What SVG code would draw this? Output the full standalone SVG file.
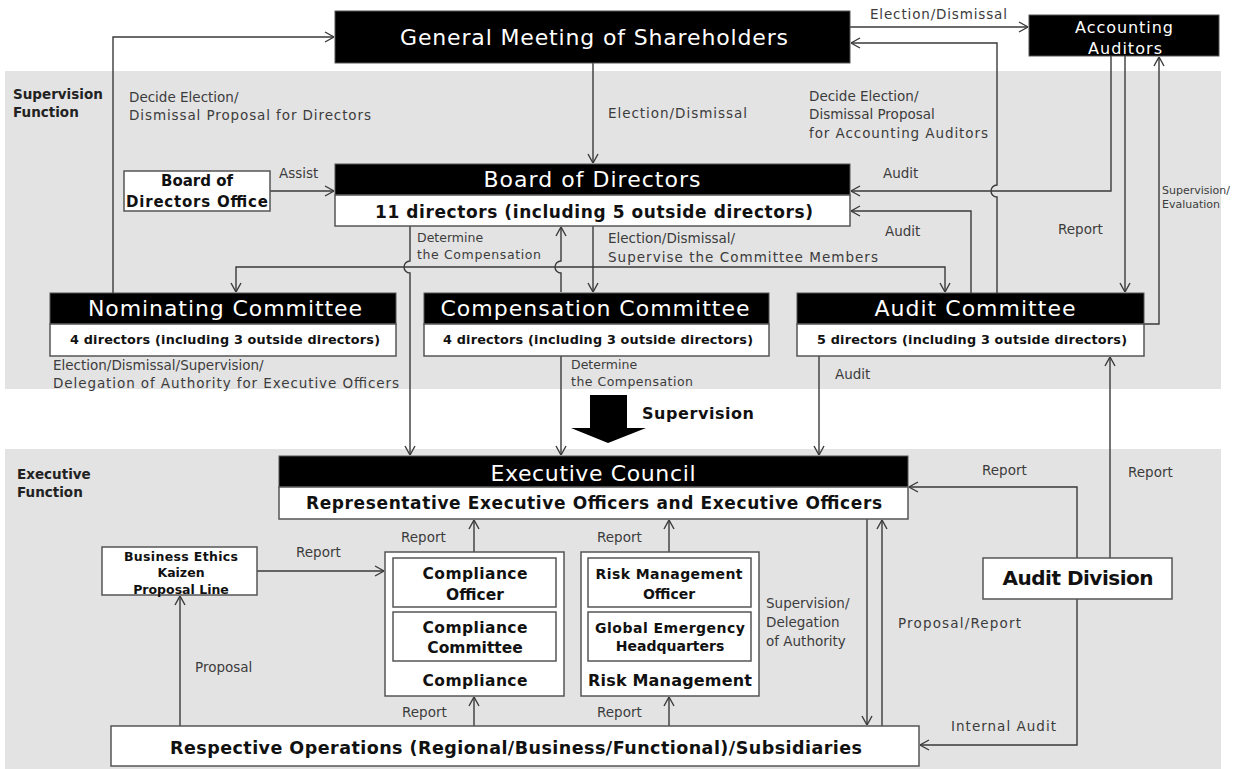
<svg xmlns="http://www.w3.org/2000/svg" width="1237" height="769" viewBox="0 0 1237 769">
  <style>
    .panel{fill:#e3e3e3}
    .blk{fill:#000;stroke:#555;stroke-width:1}
    .wht{fill:#fff;stroke:#555;stroke-width:1.5}
    .ttl{font-family:"DejaVu Sans",Verdana,sans-serif;fill:#fff;font-size:22px;text-anchor:middle}
    .sub{font-family:"DejaVu Sans",Verdana,sans-serif;font-weight:bold;fill:#111;text-anchor:middle}
    .sec{font-family:"DejaVu Sans",Verdana,sans-serif;font-weight:bold;fill:#222;font-size:13.5px}
    .lbl{font-family:"DejaVu Sans",Verdana,sans-serif;font-size:13.5px;fill:#3c3c3c}
    .cn{fill:none;stroke:#3a3a3a;stroke-width:1.4}
    .ar{marker-end:url(#ah)}
  </style>
  <defs>
    <marker id="ah" viewBox="0 0 10 12" refX="10" refY="6" markerWidth="10" markerHeight="12" markerUnits="userSpaceOnUse" orient="auto">
      <path d="M1,1 L10,6 L1,11" fill="none" stroke="#3a3a3a" stroke-width="1.4"/>
    </marker>
  </defs>

  <!-- function panels -->
  <g id="supervision-panel">
    <rect class="panel" x="5" y="71" width="1216" height="318"/>
    <text class="sec" x="13" y="99">Supervision</text>
    <text class="sec" x="13" y="117">Function</text>
  </g>
  <g id="executive-panel">
    <rect class="panel" x="5" y="449" width="1216" height="320"/>
    <text class="sec" x="17" y="479">Executive</text>
    <text class="sec" x="17" y="497">Function</text>
  </g>

  <!-- connectors -->
  <g id="connectors">
    <path class="cn ar" d="M113,293 V37 H334"/>
    <path class="cn ar" d="M270,191 H334"/>
    <path class="cn ar" d="M593,63 V163"/>
    <path class="cn ar" d="M850,27 H1028"/>
    <path class="cn ar" d="M997,293 V197 A6,6 0 0 1 997,185 V43 H851"/>
    <path class="cn ar" d="M1111,56 V191 H851"/>
    <path class="cn ar" d="M971,293 V211 H851"/>
    <path class="cn ar" d="M1125,56 V292"/>
    <path class="cn ar" d="M1144,324 H1159 V57"/>
    <path class="cn ar" d="M410,226 V261 A6,6 0 0 0 410,273 V455"/>
    <path class="cn ar" d="M561,292 V273 A6,6 0 0 1 561,261 V227"/>
    <path class="cn ar" d="M561,356 V455"/>
    <path class="cn ar" d="M593,226 V292"/>
    <path class="cn ar" d="M593,267 H236 V292"/>
    <path class="cn ar" d="M593,267 H945 V292"/>
    <path class="cn ar" d="M819,356 V455"/>
    <path class="cn ar" d="M1110,558 V357"/>
    <path class="cn ar" d="M1077,558 V487 H909"/>
    <path class="cn ar" d="M1077,599 V745 H920"/>
    <path class="cn ar" d="M867,519 V725"/>
    <path class="cn ar" d="M882,726 V520"/>
    <path class="cn ar" d="M474,552 V520"/>
    <path class="cn ar" d="M474,726 V697"/>
    <path class="cn ar" d="M669,552 V520"/>
    <path class="cn ar" d="M669,726 V697"/>
    <path class="cn ar" d="M257,571 H384"/>
    <path class="cn ar" d="M180,726 V596"/>
    <!-- block arrow -->
    <polygon points="590,395 627,395 627,428 646,428 608,443 571,428 590,428" fill="#000"/>
  </g>

  <!-- connector labels -->
  <g id="labels">
    <text class="lbl" x="870" y="19" textLength="137">Election/Dismissal</text>
    <text class="lbl" x="129" y="102">Decide Election/</text>
    <text class="lbl" x="129" y="120" textLength="242">Dismissal Proposal for Directors</text>
    <text class="lbl" x="608" y="118" textLength="139">Election/Dismissal</text>
    <text class="lbl" x="809" y="101">Decide Election/</text>
    <text class="lbl" x="809" y="119">Dismissal Proposal</text>
    <text class="lbl" x="809" y="138" textLength="179">for Accounting Auditors</text>
    <text class="lbl" x="279" y="178">Assist</text>
    <text class="lbl" x="883" y="178">Audit</text>
    <text class="lbl" x="885" y="236">Audit</text>
    <text class="lbl" x="1058" y="234">Report</text>
    <text class="lbl" x="1162" y="194" style="font-size:11px">Supervision/</text>
    <text class="lbl" x="1162" y="208" style="font-size:11px">Evaluation</text>
    <text class="lbl" x="417" y="242" style="font-size:12.5px">Determine</text>
    <text class="lbl" x="417" y="259" style="font-size:12.5px" textLength="124">the Compensation</text>
    <text class="lbl" x="608" y="243">Election/Dismissal/</text>
    <text class="lbl" x="608" y="262" textLength="270">Supervise the Committee Members</text>
    <text class="lbl" x="53" y="370">Election/Dismissal/Supervision/</text>
    <text class="lbl" x="53" y="388" textLength="346">Delegation of Authority for Executive Officers</text>
    <text class="lbl" x="571" y="369" style="font-size:12.5px">Determine</text>
    <text class="lbl" x="571" y="386" style="font-size:12.5px" textLength="122">the Compensation</text>
    <text class="lbl" x="835" y="379">Audit</text>
    <text class="sub" x="642" y="419" style="font-size:16px;text-anchor:start" textLength="112">Supervision</text>
    <text class="lbl" x="982" y="475">Report</text>
    <text class="lbl" x="1128" y="477">Report</text>
    <text class="lbl" x="296" y="557">Report</text>
    <text class="lbl" x="401" y="542">Report</text>
    <text class="lbl" x="597" y="542">Report</text>
    <text class="lbl" x="402" y="717">Report</text>
    <text class="lbl" x="597" y="717">Report</text>
    <text class="lbl" x="195" y="672">Proposal</text>
    <text class="lbl" x="766" y="608">Supervision/</text>
    <text class="lbl" x="766" y="627">Delegation</text>
    <text class="lbl" x="766" y="646">of Authority</text>
    <text class="lbl" x="898" y="628" textLength="123">Proposal/Report</text>
    <text class="lbl" x="951" y="731" textLength="105">Internal Audit</text>
  </g>

  <!-- nodes -->
  <g id="general-meeting">
    <rect class="blk" x="335" y="11" width="515" height="52"/>
    <text class="ttl" x="594" y="45" textLength="388">General Meeting of Shareholders</text>
  </g>
  <g id="accounting-auditors">
    <rect class="blk" x="1029" y="15" width="190" height="41"/>
    <text class="ttl" x="1124" y="33" style="font-size:16px" textLength="98">Accounting</text>
    <text class="ttl" x="1125" y="54" style="font-size:16px" textLength="74">Auditors</text>
  </g>
  <g id="board-office">
    <rect class="wht" x="124" y="171" width="146" height="40"/>
    <text class="sub" x="197" y="186" style="font-size:15px">Board of</text>
    <text class="sub" x="197" y="207" style="font-size:15px" textLength="142">Directors Office</text>
  </g>
  <g id="board-of-directors">
    <rect class="blk" x="335" y="164" width="515" height="31"/>
    <rect class="wht" x="335" y="195" width="515" height="31"/>
    <text class="ttl" x="592" y="187" textLength="217">Board of Directors</text>
    <text class="sub" x="594" y="218" style="font-size:17px" textLength="438">11 directors (including 5 outside directors)</text>
  </g>
  <g id="nominating-committee">
    <rect class="blk" x="50" y="293" width="346" height="31"/>
    <rect class="wht" x="50" y="324" width="346" height="32"/>
    <text class="ttl" x="225" y="316" textLength="274">Nominating Committee</text>
    <text class="sub" x="225" y="344" style="font-size:12.8px" textLength="310">4 directors (including 3 outside directors)</text>
  </g>
  <g id="compensation-committee">
    <rect class="blk" x="424" y="293" width="345" height="31"/>
    <rect class="wht" x="424" y="324" width="345" height="32"/>
    <text class="ttl" x="595" y="316" textLength="309">Compensation Committee</text>
    <text class="sub" x="598" y="344" style="font-size:12.8px" textLength="310">4 directors (including 3 outside directors)</text>
  </g>
  <g id="audit-committee">
    <rect class="blk" x="797" y="293" width="347" height="31"/>
    <rect class="wht" x="797" y="324" width="347" height="32"/>
    <text class="ttl" x="975" y="316" textLength="201">Audit Committee</text>
    <text class="sub" x="972" y="344" style="font-size:12.8px" textLength="310">5 directors (including 3 outside directors)</text>
  </g>
  <g id="executive-council">
    <rect class="blk" x="279" y="456" width="629" height="31"/>
    <rect class="wht" x="279" y="487" width="629" height="32"/>
    <text class="ttl" x="593" y="481" textLength="205">Executive Council</text>
    <text class="sub" x="594" y="509" style="font-size:17px" textLength="576">Representative Executive Officers and Executive Officers</text>
  </g>
  <g id="ethics-line">
    <rect class="wht" x="102" y="547" width="155" height="48"/>
    <text class="sub" x="181" y="561" style="font-size:12.5px" textLength="114">Business Ethics</text>
    <text class="sub" x="181" y="577" style="font-size:12.5px">Kaizen</text>
    <text class="sub" x="181" y="594" style="font-size:12.5px">Proposal Line</text>
  </g>
  <g id="compliance">
    <rect class="wht" x="385" y="552" width="179" height="144"/>
    <rect class="wht" x="393" y="558" width="163" height="49"/>
    <rect class="wht" x="393" y="612" width="163" height="49"/>
    <text class="sub" x="475" y="579" style="font-size:15.5px" textLength="105">Compliance</text>
    <text class="sub" x="475" y="600" style="font-size:15.5px">Officer</text>
    <text class="sub" x="475" y="633" style="font-size:15.5px" textLength="105">Compliance</text>
    <text class="sub" x="475" y="653" style="font-size:15.5px">Committee</text>
    <text class="sub" x="475" y="686" style="font-size:15.5px" textLength="105">Compliance</text>
  </g>
  <g id="risk-management">
    <rect class="wht" x="581" y="552" width="178" height="144"/>
    <rect class="wht" x="588" y="558" width="163" height="49"/>
    <rect class="wht" x="588" y="612" width="163" height="49"/>
    <text class="sub" x="669" y="579" style="font-size:14px" textLength="147">Risk Management</text>
    <text class="sub" x="669" y="599" style="font-size:14px">Officer</text>
    <text class="sub" x="670" y="633" style="font-size:14px" textLength="150">Global Emergency</text>
    <text class="sub" x="670" y="651" style="font-size:14px">Headquarters</text>
    <text class="sub" x="670" y="686" style="font-size:16px" textLength="164">Risk Management</text>
  </g>
  <g id="audit-division">
    <rect class="wht" x="983" y="558" width="189" height="41"/>
    <text class="sub" x="1078" y="585" style="font-size:20px" textLength="151">Audit Division</text>
  </g>
  <g id="operations">
    <rect class="wht" x="111" y="726" width="808" height="40"/>
    <text class="sub" x="516" y="754" style="font-size:17.5px" textLength="692">Respective Operations (Regional/Business/Functional)/Subsidiaries</text>
  </g>
</svg>
